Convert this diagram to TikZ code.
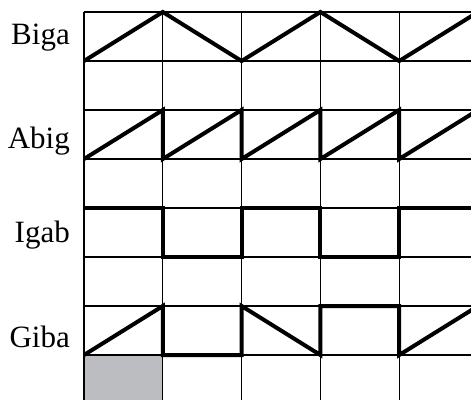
\documentclass[tikz,border=0pt]{standalone}
\usepackage{fontspec}
\setmainfont{Liberation Serif}
\definecolor{cellgray}{HTML}{BCBDC0}

\begin{document}
\begin{tikzpicture}[
   x=78.8pt,y=-49pt,
   grid/.style={line width=1.3pt},
   wave/.style={line width=4pt},
   lbl/.style={anchor=base east,inner sep=0pt,font=\fontsize{31}{36}\selectfont}]
  \useasboundingbox (-1.066,-0.245) rectangle (4.911,7.918);
  \clip (-1.066,-0.245) rectangle (4.911,7.918);
  % shaded cell and grid
  \fill[cellgray] (0,7) rectangle (1,8);
  \foreach \r in {0,...,7}
    \draw[grid] (0,\r) -- (5,\r);
  \foreach \c in {0,...,4}
    \draw[grid] (\c,0) -- (\c,8);
  % waveforms
  \draw[wave] (0,1) -- (1,0) -- (2,1) -- (3,0) -- (4,1) -- (5,0);
  \draw[wave] (0,3) -- (1,2) -- (1,3) -- (2,2) -- (2,3) -- (3,2) -- (3,3) -- (4,2) -- (4,3) -- (5,2);
  \draw[wave] (0,4) -- (1,4) -- (1,5) -- (2,5) -- (2,4) -- (3,4) -- (3,5) -- (4,5) -- (4,4) -- (5,4);
  \draw[wave] (0,7) -- (1,6) -- (1,7) -- (2,7) -- (2,6) -- (3,7) -- (3,6) -- (4,6) -- (4,7) -- (5,6);
  % labels
  \node[lbl] (biga) at (-0.178,0.673) {Biga};
  \node[lbl] (abig) at (-0.178,2.776) {Abig};
  \node[lbl] (igab) at (-0.178,4.714) {Igab};
  \node[lbl] (giba) at (-0.178,6.837) {Giba};
\end{tikzpicture}
\end{document}
